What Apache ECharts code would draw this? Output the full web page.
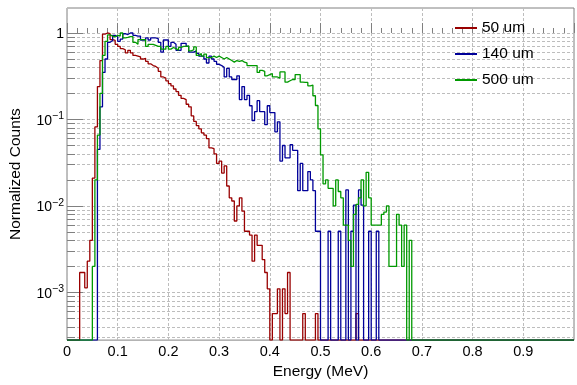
<!DOCTYPE html>
<html>
<head>
<meta charset="utf-8">
<script src="https://cdn.jsdelivr.net/npm/echarts@6/dist/echarts.min.js"></script>
<style>
html,body{margin:0;padding:0;background:#fff;}
#chart{width:577px;height:385px;}
</style>
</head>
<body>
<div id="chart"></div>
<script>
// ---- data (histograms, bin width 0.005 MeV, 200 bins over 0..1 MeV) ----
const binWidth = 0.005;
const nBins = 200;
const seriesNames = ['50 um', '140 um', '500 um'];
const seriesColors = ['#990000', '#000099', '#009900'];

// first non-empty bin low edge, then values per bin
const red50Start = 0.025;
const red50 = [0.0017,0.0017,0.00113,0.0023,0.0040,0.021,0.082,0.24,0.48,0.97,
  1.0,0.98,0.84,0.82,0.74,0.70,0.66,0.64,0.59,0.63,
  0.59,0.55,0.54,0.53,0.50,0.51,0.47,0.44,0.42,0.41,
  0.39,0.36,0.31,0.30,0.28,0.26,0.245,0.225,0.21,0.19,
  0.175,0.17,0.15,0.14,0.11,0.095,0.085,0.078,0.070,0.066,
  0.060,0.047,0.046,0.040,0.031,0.033,0.024,0.029,0.017,0.0124,
  0.0114,0.0067,0.0100,0.0124,0.0087,0.0051,0.0051,0.0046,0.0023,0.0046,
  0.0035,0.0035,0.0024,0.0017,0.0011,0,0.00057,0.00057,0.0011,0,
  0.0011,0.00057,0.0017,0,0,0,0,0,0.00057,0,
  0,0,0,0.00057,0,0,0,0,0,0,
  0,0,0,0,0,0,0,0,0,0.00057];

const blue140Start = 0.060;
const blue140 = [0.045,0.14,0.35,0.50,0.78,0.82,0.94,0.90,0.80,0.85,
  0.98,0.96,1.0,1.0,0.94,0.92,0.92,0.83,0.83,0.88,
  0.83,0.88,0.88,0.86,0.78,0.60,0.83,0.83,0.70,0.78,
  0.74,0.63,0.63,0.76,0.76,0.70,0.60,0.60,0.62,0.58,
  0.54,0.54,0.50,0.45,0.54,0.50,0.47,0.435,0.42,0.40,
  0.31,0.39,0.31,0.29,0.29,0.32,0.17,0.24,0.17,0.19,
  0.144,0.097,0.123,0.165,0.123,0.123,0.087,0.144,0.12,0.12,
  0.072,0.094,0.033,0.05,0.036,0.036,0.051,0.044,0.044,0.015,
  0.031,0.015,0.015,0.025,0.020,0.015,0.0051,0.0051,0,0,
  0,0.0051,0,0,0,0.0051,0,0,0.0153,0,
  0.0051,0.0102,0,0.0153,0.0102,0,0,0.0051,0,0,
  0.0051];

const green500Start = 0.050;
const green500 = [0.002,0.020,0.066,0.20,0.55,0.80,0.95,0.92,0.90,0.94,
  0.92,1.0,0.88,0.89,0.91,0.91,0.78,0.74,0.84,0.84,
  0.84,0.70,0.74,0.74,0.72,0.70,0.70,0.65,0.65,0.70,
  0.65,0.68,0.66,0.63,0.68,0.70,0.70,0.71,0.62,0.64,
  0.69,0.55,0.58,0.54,0.57,0.52,0.52,0.54,0.52,0.54,
  0.52,0.50,0.52,0.50,0.48,0.46,0.48,0.47,0.48,0.46,
  0.45,0.42,0.42,0.42,0.42,0.35,0.37,0.36,0.32,0.33,
  0.34,0.31,0.31,0.30,0.355,0.355,0.27,0.28,0.29,0.29,
  0.33,0.33,0.27,0.268,0.268,0.245,0.25,0.188,0.145,0.078,
  0.039,0.018,0.020,0.016,0.016,0.010,0.020,0.0147,0.0124,0.006,
  0.006,0.004,0.002,0.008,0.0104,0.0124,0.020,0.010,0.0245,0.0124,
  0.006,0.006,0.006,0.006,0.008,0.0085,0.010,0.002,0.002,0.002,
  0.008,0.006,0.002,0.006,0,0.004];

// axis ranges and ticks
const xMin = 0, xMax = 1.0, xStep = 0.1;
const yMinVal = 0.000281, yMaxVal = 1.945;
const yMajorTicks = [0.001, 0.01, 0.1, 1];
const yMinorMult = [2,3,4,5,6,7,8,9];

// ---- build ----
const L = Math.log10;
const yLo = L(yMinVal), yHi = L(yMaxVal);
function histLine(start, vals) {
  const full = new Array(nBins).fill(0);
  const s = Math.round(start / binWidth);
  vals.forEach((v, k) => { full[s + k] = v; });
  const pts = full.map((v, i) => [i * binWidth, v > 0 ? L(v) : yLo]);
  pts.push([nBins * binWidth, pts[pts.length - 1][1]]);
  return pts;
}
const majorLog = yMajorTicks.map(L);
const minorLog = [];
[0.0001,0.001,0.01,0.1,1].forEach(d => yMinorMult.forEach(m => {
  const v = L(d * m); if (v > yLo && v < yHi) minorLog.push(v);
}));

const FONT = '"Liberation Sans", Arial, Helvetica, sans-serif';
const gridDash = {color: '#bdbdbd', width: 1, type: [3, 2]};

const chart = echarts.init(document.getElementById('chart'), null, {renderer: 'canvas'});
chart.setOption({
  animation: false,
  backgroundColor: '#ffffff',
  textStyle: {fontFamily: FONT},
  grid: {left: 66, right: -4, top: 8, bottom: 42, show: true, borderColor: '#808080', borderWidth: 1, containLabel: false},
  legend: {
    orient: 'vertical', left: 450, top: 14, itemWidth: 22, itemHeight: 2, itemGap: 8,
    icon: 'rect',
    textStyle: {fontSize: 15.5, color: '#000', fontFamily: FONT, lineHeight: 18},
    data: seriesNames
  },
  xAxis: {
    type: 'value', min: xMin, max: xMax, interval: xStep,
    name: 'Energy (MeV)', nameLocation: 'middle', nameGap: 23,
    nameTextStyle: {fontSize: 15.5, color: '#000', fontFamily: FONT},
    axisLine: {show: false},
    axisTick: {show: true, inside: true, length: 10, lineStyle: {color: '#808080'}},
    minorTick: {show: true, splitNumber: 5, length: 5, lineStyle: {color: '#808080'}},
    axisLabel: {fontSize: 14.5, color: '#000', margin: 4, fontFamily: FONT,
      formatter: v => (Math.abs(v - 1) < 1e-9 ? '' : String(+v.toFixed(1)))},
    splitLine: {show: true, lineStyle: gridDash}
  },
  yAxis: [{
    type: 'value', min: yLo, max: yHi,
    name: 'Normalized Counts', nameLocation: 'middle', nameGap: 43,
    nameTextStyle: {fontSize: 15.5, color: '#000', fontFamily: FONT},
    axisLine: {show: false},
    axisTick: {show: true, inside: true, length: 16, customValues: majorLog, lineStyle: {color: '#808080'}},
    axisLabel: {customValues: majorLog, margin: 3, color: '#000', fontFamily: FONT,
      formatter: v => { const n = Math.round(v); return n === 0 ? '{b|1}' : '{b|10}{s|\u2212' + (-n) + '}'; },
      rich: {b: {fontSize: 14, fontFamily: FONT, color: '#000', padding: [3, 0, 0, 0]},
             s: {fontSize: 10.5, fontFamily: FONT, color: '#000', padding: [0, 0, 6, 0]}}},
    splitLine: {show: true, lineStyle: gridDash}
  }, {
    type: 'value', min: yLo, max: yHi, position: 'left',
    axisLine: {show: false},
    axisTick: {show: true, inside: true, length: 8, customValues: minorLog, lineStyle: {color: '#808080'}},
    axisLabel: {show: false, customValues: minorLog},
    splitLine: {show: true, lineStyle: gridDash}
  }],
  series: [
    {name: seriesNames[0], type: 'line', step: 'end', symbol: 'none', data: histLine(red50Start, red50),
     lineStyle: {color: seriesColors[0], width: 1.3}, itemStyle: {color: seriesColors[0]}},
    {name: seriesNames[1], type: 'line', step: 'end', symbol: 'none', data: histLine(blue140Start, blue140),
     lineStyle: {color: seriesColors[1], width: 1.3}, itemStyle: {color: seriesColors[1]}},
    {name: seriesNames[2], type: 'line', step: 'end', symbol: 'none', data: histLine(green500Start, green500),
     lineStyle: {color: seriesColors[2], width: 1.3}, itemStyle: {color: seriesColors[2]}}
  ]
});
</script>
</body>
</html>
